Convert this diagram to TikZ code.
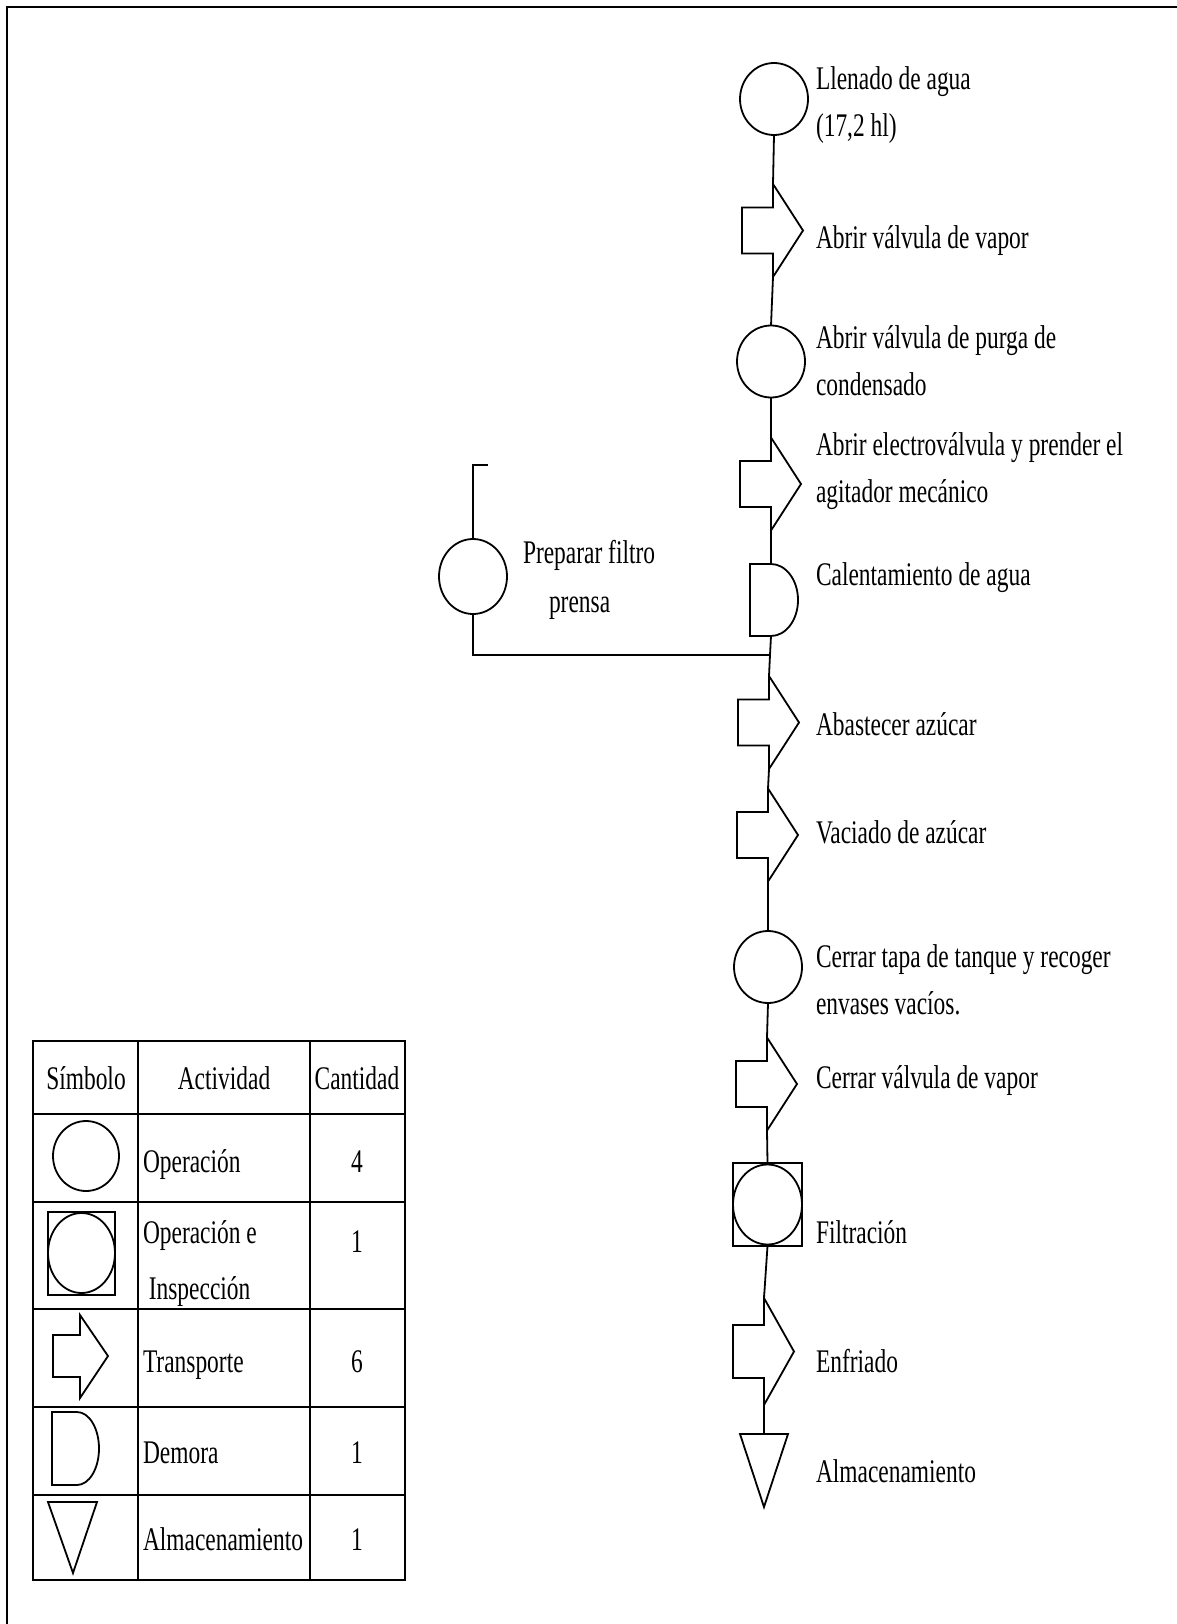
\documentclass[tikz,border=0pt]{standalone}
\usepackage{fontspec}
\setmainfont[FakeStretch=0.71]{Liberation Serif}
\usetikzlibrary{shapes.geometric}
% two stacked lines whose first baseline is the box baseline
\newcommand\twoline[2]{\vtop{\hbox{#1}\hbox{#2}}}

\begin{document}
\begin{tikzpicture}[x=1pt,y=-1pt,
  every node/.style={inner sep=0pt, outer sep=0pt},
  txt/.style={font=\fontsize{33}{47}\selectfont},
  lbl/.style={txt, anchor=base west},
  cell/.style={txt, anchor=base},
  flow/.style={line width=1.8pt, line join=miter},
  grid/.style={line width=2.1pt},
  opc/.style={draw, flow, ellipse, minimum width=68pt, minimum height=72pt},
  pics/transport/.style={code={
    \draw[flow] (0,-46.5) -- (30,0) -- (0,46.5) -- (0,23) -- (-31,23)
                -- (-31,-23) -- (0,-23) -- cycle;
    \coordinate (-top) at (0,-46.5);
    \coordinate (-bot) at (0,46.5);}},
  pics/delay/.style={code={
    \draw[flow] (0,-36) -- (-21,-36) -- (-21,36) -- (0,36)
                arc[start angle=90, end angle=-90, x radius=27, y radius=36] -- cycle;
    \coordinate (-top) at (0,-36);
    \coordinate (-bot) at (0,36);}},
  pics/store/.style={code={
    \draw[flow] (-24,-36.5) -- (24,-36.5) -- (0,36.5) -- cycle;
    \coordinate (-top) at (0,-36.5);}}
]
\fill[white] (0,0) rectangle (1177,1624);
\useasboundingbox (0,0) rectangle (1177,1624);

% outer frame
\draw[line width=2.6pt] (7,1624) -- (7,7) -- (1177,7);

% main process line
\node[opc] (c1) at (774,99) {};
\pic (a1) at (773,230.5) {transport};
\node[opc] (c2) at (771,361.5) {};
\pic (a3) at (771,484) {transport};
\pic (d) at (771,600) {delay};
\coordinate (j) at (770,655);
\pic (a4) at (769,722.5) {transport};
\pic (a5) at (768,835) {transport};
\node[opc] (c6) at (768,967) {};
\pic (a7) at (767,1084) {transport};
\node[draw, flow, minimum width=69pt, minimum height=83pt] (f) at (767.5,1204.5) {};
\node[opc, minimum width=69pt, minimum height=80pt] (fc) at (f.center) {};
\pic[yscale=1.15] (a8) at (764,1351.5) {transport};
\pic (s) at (764,1470.5) {store};

% side branch
\node[opc, minimum height=75pt] (p) at (473,576.5) {};
\coordinate (pend) at (488,465);

% connectors
\draw[flow] (c1.south) -- (a1-top);
\draw[flow] (a1-bot) -- (c2.north);
\draw[flow] (c2.south) -- (a3-top);
\draw[flow] (a3-bot) -- (d-top);
\draw[flow] (d-bot) -- (j) -- (a4-top);
\draw[flow] (p.south) |- (j);
\draw[flow] (p.north) |- (pend);
\draw[flow] (a4-bot) -- (a5-top);
\draw[flow] (a5-bot) -- (c6.north);
\draw[flow] (c6.south) -- (a7-top);
\draw[flow] (a7-bot) -- (f.north);
\draw[flow] (f.south) -- (a8-top);
\draw[flow] (a8-bot) -- (s-top);

% step labels
\node[lbl] (t1) at (816,90) {\twoline{Llenado de agua}{(17,2 hl)}};
\node[lbl] (t2) at (816,248) {Abrir válvula de vapor};
\node[lbl] (t3) at (816,348) {\twoline{Abrir válvula de purga de}{condensado}};
\node[lbl] (t4) at (816,455) {\twoline{Abrir electroválvula y prender el}{agitador mecánico}};
\node[lbl] (t5) at (816,585) {Calentamiento de agua};
\node[lbl] (t6) at (816,735) {Abastecer azúcar};
\node[lbl] (t7) at (816,843) {Vaciado de azúcar};
\node[lbl] (t8) at (816,967) {\twoline{Cerrar tapa de tanque y recoger}{envases vacíos.}};
\node[lbl] (t9) at (816,1088) {Cerrar válvula de vapor};
\node[lbl] (t10) at (816,1243) {Filtración};
\node[lbl] (t11) at (816,1372) {Enfriado};
\node[lbl] (t12) at (816,1482) {Almacenamiento};
\node[lbl] (tp1) at (523,563) {Preparar filtro};
\node[lbl] (tp2) at (549,612) {prensa};

% summary table
\draw[grid] (33,1041) rectangle (405,1580);
\foreach \yy in {1114,1202,1309,1407,1495}
  \draw[grid] (33,\yy) -- (405,\yy);
\foreach \xx in {138,310}
  \draw[grid] (\xx,1041) -- (\xx,1580);

\node[cell] (hs) at (86,1089) {Símbolo};
\node[cell] (ha) at (224,1089) {Actividad};
\node[cell] (hc) at (357,1089) {Cantidad};

\draw[flow] (86,1156) ellipse [x radius=33, y radius=35];
\node[lbl] (r1a) at (143,1172) {Operación};
\node[cell] (r1n) at (357,1172) {4};

\draw[line width=1.2pt] (48,1212) rectangle (115,1295);
\draw[flow] (81.5,1253) ellipse [x radius=33.5, y radius=40];
\node[lbl] (r2a) at (143,1243) {\vtop{\baselineskip=56pt\hbox{Operación e}\hbox{\ Inspección}}};
\node[cell] (r2n) at (357,1252) {1};

\draw[flow] (80,1315) -- (108,1356) -- (80,1398) -- (80,1377) -- (53,1377)
            -- (53,1335) -- (80,1335) -- cycle;
\node[lbl] (r3a) at (143,1372) {Transporte};
\node[cell] (r3n) at (357,1372) {6};

\draw[flow] (77,1412) -- (52,1412) -- (52,1485) -- (77,1485)
            arc[start angle=90, end angle=-90, x radius=22, y radius=36.5] -- cycle;
\node[lbl] (r4a) at (143,1463) {Demora};
\node[cell] (r4n) at (357,1463) {1};

\draw[flow] (48,1502) -- (97,1502) -- (73,1573) -- cycle;
\node[lbl] (r5a) at (143,1550) {Almacenamiento};
\node[cell] (r5n) at (357,1550) {1};
\end{tikzpicture}
\end{document}
